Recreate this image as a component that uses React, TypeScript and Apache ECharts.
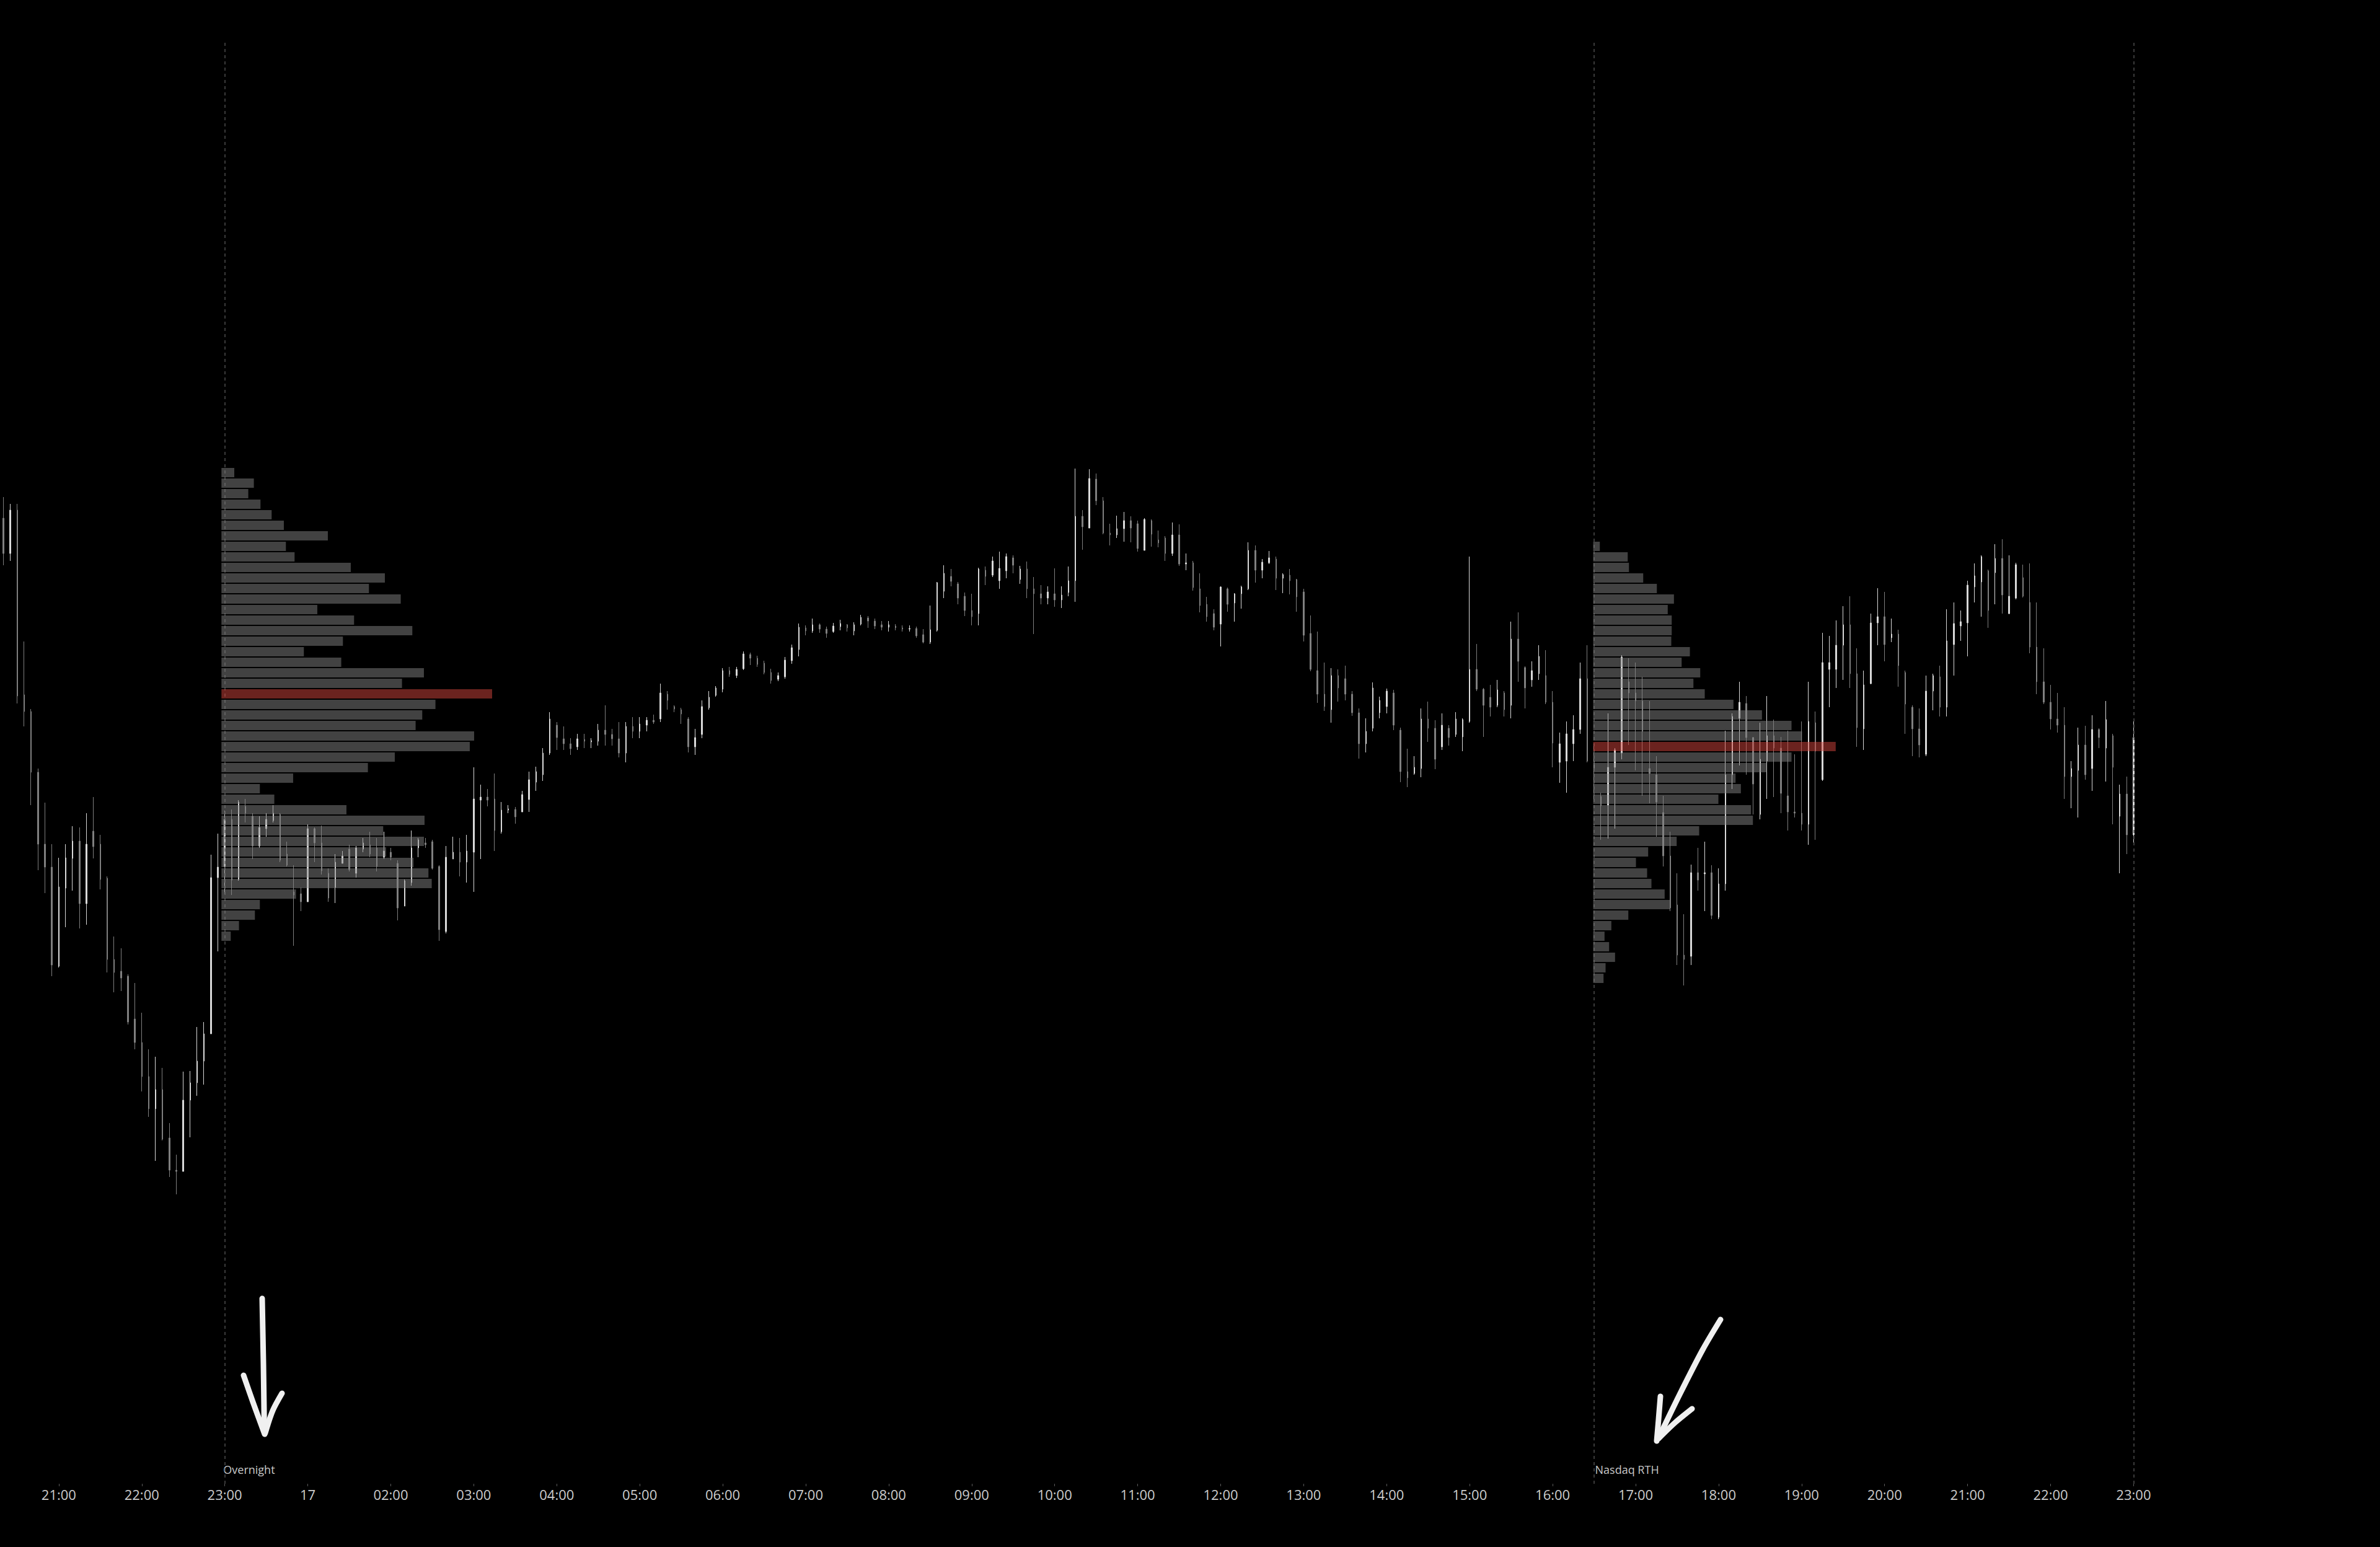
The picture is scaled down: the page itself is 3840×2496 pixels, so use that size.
import React, { useEffect, useRef } from "react";
import * as echarts from "echarts";

// ---------- categories (5-minute bars, CME halt skipped) ----------
const dayOneLabel = "16";
const dayOneStart = "20:20";
const dayOneBars = 44;
const dayTwoLabel = "17";
const dayTwoStart = "01:00";
const dayTwoBars = 265;

function buildTimes(day: string, start: string, count: number): string[] {
  const [h, m] = start.split(":").map(Number);
  const out: string[] = [];
  for (let i = 0; i < count; i++) {
    const t = h * 60 + m + i * 5;
    const hh = String(Math.floor(t / 60)).padStart(2, "0");
    const mm = String(t % 60).padStart(2, "0");
    out.push(day + " " + hh + ":" + mm);
  }
  return out;
}
const times: string[] = [
  ...buildTimes(dayOneLabel, dayOneStart, dayOneBars),
  ...buildTimes(dayTwoLabel, dayTwoStart, dayTwoBars),
];

// ---------- candles [open, close, low, high] ----------
const eveningCandles: number[][] = [
  [21591, 21576.75, 21572, 21599.5], [21576.75, 21594.25, 21573.75, 21596.75],
  [21594.25, 21519.25, 21516.25, 21596.75], [21519.75, 21513, 21507, 21541.25],
  [21513, 21488.5, 21475.25, 21514], [21488.5, 21459.5, 21449, 21490],
  [21459.5, 21450.25, 21439.75, 21476.25], [21450.25, 21410.75, 21406.25, 21459.5],
  [21410.25, 21442.25, 21409.75, 21454], [21441.75, 21454, 21426, 21459.5],
  [21453.75, 21460.75, 21440.75, 21466.75], [21460.75, 21435.5, 21425.5, 21466.25],
  [21435.5, 21459.5, 21427, 21472], [21464.75, 21458.5, 21453.75, 21478.5],
  [21459.5, 21445.25, 21441.25, 21463.25], [21445.75, 21413, 21407.75, 21446.5],
  [21413, 21407.75, 21399.75, 21422.25], [21408.25, 21405.5, 21400.25, 21417.5],
  [21406.25, 21387.75, 21386.75, 21407], [21389, 21379.5, 21376.75, 21403.5],
  [21379.5, 21365.75, 21359.75, 21391.5], [21365.75, 21352.75, 21349.5, 21376.75],
  [21352.75, 21360.5, 21331.75, 21373.75], [21360.5, 21340.5, 21340, 21369.25],
  [21341, 21328, 21325.25, 21347], [21328, 21327.5, 21318.25, 21334.25],
  [21327.5, 21356.25, 21327.5, 21367.75], [21356.25, 21363.25, 21341.25, 21368],
  [21363.25, 21372, 21358, 21385.75], [21372, 21383, 21362.5, 21387.75],
  [21383, 21446, 21383, 21455.25], [21446, 21450.25, 21416.25, 21463.75],
];

const overnightCandles: number[][] = [
  [21450.5, 21469.5, 21439.5, 21473], [21469.5, 21445, 21439, 21473.5],
  [21445.25, 21476.5, 21444.75, 21477.25], [21474.75, 21472, 21468.25, 21477.75],
  [21470.75, 21458.75, 21453.5, 21472], [21458.75, 21466.25, 21458, 21470.75],
  [21465.75, 21469.5, 21462.5, 21472], [21469, 21472, 21468.25, 21475.25],
  [21471.5, 21453, 21452.25, 21472], [21455.5, 21451, 21450.5, 21460.5],
  [21440.25, 21439, 21418.5, 21451], [21439.5, 21436.25, 21432.5, 21442],
  [21436.25, 21465.75, 21436.25, 21467.5], [21465.75, 21460, 21452.25, 21466.25],
  [21460, 21448.75, 21447.25, 21467], [21447.75, 21437.75, 21436.25, 21449.75],
  [21442, 21452.25, 21435.75, 21455.5], [21451.75, 21454.75, 21451.75, 21456.75],
  [21457.5, 21449.25, 21448.5, 21459.25], [21447.75, 21458, 21446, 21458.75],
  [21457.5, 21460, 21456.25, 21462], [21459.25, 21455.5, 21454.25, 21464.5],
  [21458, 21450.5, 21448.5, 21462], [21454.25, 21456.75, 21453.5, 21464.5],
  [21456.25, 21454.25, 21453, 21458], [21451.75, 21433.75, 21428.75, 21453],
  [21434.5, 21444.75, 21434.5, 21445.25], [21444, 21458, 21442.75, 21465],
  [21458, 21461.25, 21454.25, 21462], [21460, 21459.25, 21458, 21462],
  [21460.5, 21449.75, 21449.25, 21461.25], [21450.5, 21425, 21420.5, 21451],
  [21424.25, 21454.25, 21423.5, 21458.75], [21453.5, 21456.25, 21453.5, 21462.5],
  [21456.25, 21452.25, 21446.5, 21462], [21452.25, 21456.75, 21444, 21463.25],
  [21456.25, 21477.75, 21440.25, 21490.5], [21477.25, 21478.5, 21453.5, 21483.5],
  [21478.5, 21477.25, 21474.75, 21481.75], [21477.75, 21465, 21456.75, 21488],
  [21464.5, 21473.25, 21463.75, 21476.5], [21473.25, 21473.75, 21472, 21475.25],
  [21473.5, 21470.5, 21467.75, 21474.5], [21472.5, 21479.5, 21472.5, 21481],
  [21477.5, 21485.5, 21472.5, 21488.75], [21484.5, 21488.75, 21481, 21490.75],
  [21487.5, 21496.25, 21485, 21498.25], [21496.25, 21510, 21495.5, 21512.75],
  [21507.5, 21502.5, 21497.5, 21508.75], [21502, 21500, 21497.5, 21507],
  [21500, 21498, 21495.5, 21502.25], [21498.75, 21502, 21497.5, 21504],
  [21501.75, 21501, 21498.25, 21504], [21500.75, 21501.25, 21498.25, 21502.25],
  [21501, 21505.5, 21499.25, 21508], [21505.5, 21503.75, 21499.25, 21515.5],
  [21503.75, 21502, 21499.25, 21506], [21502, 21496.25, 21494.5, 21508.75],
  [21496.25, 21507, 21492.5, 21508.75], [21507, 21505, 21502.25, 21510.75],
  [21505, 21508, 21502.25, 21510.75], [21507.5, 21509.5, 21505, 21510.75],
  [21509.5, 21508.75, 21508, 21511.75], [21510, 21520.5, 21508.75, 21524.25],
  [21520, 21517.5, 21513.75, 21521.25], [21515, 21514, 21512.75, 21515.5],
  [21513.75, 21512, 21508, 21514.5], [21510, 21498.75, 21496.5, 21510.75],
  [21498.75, 21502.5, 21495.5, 21506], [21503.75, 21515, 21502.25, 21517.5],
  [21514.5, 21518.75, 21513.75, 21521.25], [21519.5, 21522.5, 21519, 21523.25],
  [21522, 21529.5, 21520.75, 21530.5], [21529.5, 21528, 21527, 21531],
  [21527.5, 21530, 21526.5, 21531], [21530.25, 21536.25, 21529.75, 21537.25],
  [21536, 21534.5, 21531.75, 21536.75], [21534.5, 21532, 21531, 21535.5],
  [21532.5, 21528.75, 21528, 21533.5], [21528.75, 21525.5, 21524.25, 21530.25],
  [21526, 21527.5, 21525.25, 21528.75], [21527, 21533.75, 21526.25, 21535],
  [21533.5, 21538.75, 21532.25, 21540], [21538, 21547, 21535.25, 21548.5],
  [21546.75, 21545.5, 21543.75, 21547.75], [21545.5, 21548, 21544.75, 21550.5],
  [21548, 21546.25, 21544.75, 21548.5], [21546.25, 21544.5, 21542.75, 21547.25],
  [21545.25, 21547.5, 21544.75, 21548.75], [21547.25, 21548.5, 21545.75, 21550],
  [21548, 21546.75, 21545.25, 21548.25], [21545.5, 21548, 21543.75, 21549],
  [21548.25, 21551, 21547.75, 21552], [21550.75, 21549.5, 21546.75, 21551.5],
  [21549.5, 21547.5, 21546.25, 21550.5], [21548, 21547, 21545.75, 21549.5],
  [21547, 21548, 21545.25, 21549.5], [21547.5, 21546.75, 21545.75, 21548.25],
  [21546.75, 21546.25, 21545.25, 21547.75], [21546.25, 21546.5, 21545.25, 21547.75],
  [21546.5, 21543.5, 21542.75, 21547.25], [21544, 21541, 21540.5, 21546.25],
  [21541, 21546, 21540.25, 21555.75], [21545.75, 21565, 21545.25, 21565.25],
  [21561.5, 21568.75, 21558.75, 21572], [21567.5, 21565.5, 21563.5, 21570.5],
  [21564.5, 21558.75, 21556.25, 21565.25], [21559.5, 21553.75, 21551.5, 21561],
  [21553.75, 21551.25, 21547.75, 21560.5], [21552.5, 21570.5, 21547.75, 21571],
  [21570, 21567.5, 21564, 21571.5], [21568, 21573.75, 21567.25, 21575.5],
  [21565.75, 21570.75, 21562.5, 21577.5], [21569.75, 21575.5, 21566.75, 21576.75],
  [21575, 21572, 21568.75, 21576], [21566.25, 21570.5, 21564.5, 21571.75],
  [21570.5, 21562.5, 21558.75, 21573.5], [21562.5, 21560.5, 21544.25, 21567.25],
  [21560.5, 21558.75, 21556.25, 21564], [21558.75, 21561.25, 21556.25, 21563.5],
  [21560.5, 21558, 21555.25, 21570.75], [21558, 21560, 21554.75, 21563.5],
  [21561, 21565.75, 21559.5, 21571.5], [21565.75, 21591.75, 21557.25, 21611],
  [21591.75, 21587.5, 21578.25, 21594.25], [21587, 21607, 21587, 21610.75],
  [21606.75, 21598, 21596.25, 21609], [21598, 21585, 21584.5, 21599.5],
  [21585, 21584.25, 21580, 21588.75], [21584.25, 21586.75, 21583, 21592],
  [21586.75, 21590, 21581.5, 21593.5], [21590, 21587, 21581.25, 21591.75],
  [21588.75, 21578.75, 21577.5, 21590], [21578, 21590.5, 21578, 21591],
  [21590, 21584.5, 21579.5, 21590.5], [21582.25, 21581, 21579.25, 21586],
  [21583, 21576.75, 21573.75, 21583.75], [21576.75, 21584.25, 21575.75, 21589.25],
  [21584.25, 21572.5, 21571.75, 21588.5], [21572.5, 21573, 21570, 21576.75],
  [21573, 21563, 21561.75, 21573.75], [21562.5, 21555.75, 21553, 21568.75],
  [21556.25, 21551.25, 21549.25, 21559.25], [21552.5, 21547, 21545.75, 21554.25],
  [21548.25, 21563.25, 21539.25, 21563.5], [21562.5, 21556.25, 21553.25, 21563],
  [21556.75, 21560.5, 21549.25, 21560.75], [21560.5, 21563.25, 21554.5, 21563.75],
  [21562.5, 21578, 21562, 21581.25], [21578, 21570, 21565, 21580],
  [21570, 21573.25, 21566.75, 21574.5], [21573, 21575, 21572.5, 21577.75],
  [21574.5, 21566.75, 21562, 21575.5], [21566.75, 21568.25, 21560.75, 21568.75],
  [21568, 21565.75, 21560.25, 21570.5], [21566.25, 21559.25, 21553.25, 21566.5],
  [21561.25, 21543.75, 21541.25, 21562.5], [21544.5, 21530, 21529.25, 21551.75],
  [21529.5, 21520, 21516.5, 21545.25], [21520, 21515, 21513.25, 21532.75],
  [21513.75, 21527.5, 21508.5, 21530.5], [21527.5, 21522.5, 21517, 21530],
  [21526.25, 21520, 21517.5, 21531.5], [21520, 21512.5, 21511.25, 21521.25],
  [21512.5, 21500, 21494, 21514.25], [21500, 21505, 21496.5, 21510.25],
  [21506.25, 21522.5, 21505, 21524.75], [21512.5, 21517.5, 21510.25, 21519],
  [21515, 21521.25, 21512.25, 21522.25], [21520.5, 21507.5, 21505.5, 21521.75],
  [21505.5, 21488.75, 21484.5, 21506.5], [21488.75, 21486.25, 21482.5, 21498],
  [21488, 21490.5, 21487.5, 21495], [21490, 21510, 21486.5, 21514.25],
  [21510, 21506.25, 21500.75, 21517], [21506.25, 21493.75, 21489.75, 21509.5],
  [21498.75, 21507.5, 21497.5, 21512.25], [21506.25, 21502.5, 21499.25, 21507.5],
  [21503.75, 21510, 21502.75, 21512.75], [21502.75, 21509.75, 21497, 21510.25],
  [21509, 21530, 21508.5, 21575.5], [21530, 21522, 21521.25, 21540.25],
  [21522, 21515.5, 21502.75, 21522.5], [21518.75, 21514.75, 21511, 21523.75],
  [21515.5, 21521.75, 21514.75, 21525.75], [21520.5, 21513.75, 21511, 21521.25],
  [21515.5, 21542.25, 21510.25, 21549.25], [21542.25, 21533.25, 21525, 21553],
  [21530.75, 21522.5, 21514.25, 21531.25], [21525.75, 21529.5, 21523, 21533.25],
  [21528.25, 21535.25, 21525.75, 21539.75], [21527.5, 21516.75, 21516, 21537.75],
  [21516.75, 21500.25, 21490.5, 21521.25], [21492.5, 21500, 21484.25, 21504.5],
  [21493, 21504, 21480.25, 21509], [21500, 21505.75, 21493, 21511.5],
  [21505.75, 21526.25, 21504, 21532.75], [21526.25, 21493, 21492.5, 21539.75],
];

const rthCandles: number[][] = [
  [21493, 21490, 21477.5, 21500], [21478.75, 21475, 21461.25, 21480.25],
  [21475.25, 21490.5, 21461.75, 21512.25], [21490.5, 21497.5, 21465.75, 21498.25],
  [21496.25, 21535, 21493.75, 21535.75], [21525, 21520.5, 21499.5, 21534.5],
  [21520.5, 21517.25, 21489.25, 21532.75], [21517.25, 21505, 21479, 21527],
  [21490, 21488, 21476, 21517.25], [21487.5, 21476.5, 21462.5, 21495],
  [21472.25, 21454.75, 21450.5, 21479], [21454.75, 21433.75, 21432.5, 21464.5],
  [21435, 21414.75, 21410.75, 21447.75], [21414.75, 21413, 21402.5, 21431.25],
  [21414.25, 21448, 21410.75, 21451.25], [21448, 21445, 21440.75, 21458],
  [21447.5, 21448, 21432.5, 21460.5], [21448, 21430.75, 21429.25, 21451],
  [21430, 21443.5, 21429.25, 21449.75], [21443.5, 21487.5, 21440.75, 21505.25],
  [21487.5, 21511, 21481.75, 21512.25], [21510.25, 21516.75, 21491.25, 21525],
  [21516.25, 21502.5, 21487.5, 21519.25], [21502.5, 21483.75, 21471.5, 21502.75],
  [21471.5, 21493.75, 21469.5, 21508.5], [21493, 21503.25, 21477.75, 21519.25],
  [21503.25, 21498.25, 21478.5, 21509.75], [21498.25, 21480, 21472, 21502.75],
  [21479, 21472.5, 21465, 21505.25], [21472.5, 21472, 21470.25, 21495.75],
  [21472, 21467.5, 21465, 21509], [21467.5, 21509, 21459.25, 21525],
  [21508.5, 21497, 21461.25, 21513], [21485.5, 21532.75, 21485, 21544.75],
  [21530, 21532.75, 21514.75, 21543.5], [21530, 21539.75, 21522.5, 21549.75],
  [21539.75, 21548, 21525.75, 21555.5], [21548, 21528.25, 21522.5, 21559.5],
  [21528.25, 21506.5, 21498.75, 21538.5], [21506, 21523.75, 21497.5, 21529.5],
  [21524.25, 21548.75, 21524, 21552.5], [21548.75, 21551.25, 21539.75, 21562.75],
  [21551.25, 21540, 21533.25, 21561.25], [21542.75, 21544.25, 21541, 21550.5],
  [21544.25, 21531.5, 21523, 21546], [21528.75, 21516, 21504, 21529.5],
  [21514.75, 21506, 21495, 21515.5], [21506, 21499.5, 21494.5, 21514.25],
  [21495.75, 21521.25, 21495, 21527.5], [21521.25, 21527.5, 21513.5, 21528.25],
  [21527, 21514.75, 21511, 21531.5], [21514.75, 21541.5, 21511, 21554.25],
  [21540, 21548.5, 21527.5, 21557], [21547.5, 21549.25, 21541.5, 21553.75],
  [21548.75, 21564, 21535.25, 21565.75], [21563.25, 21567.75, 21557, 21572.75],
  [21565.25, 21575.5, 21551.25, 21576], [21569.75, 21553.75, 21546.75, 21570.25],
  [21569, 21574.75, 21556.25, 21580.5], [21574.75, 21560, 21552.5, 21582.5],
  [21552.5, 21559.5, 21552.25, 21576], [21558.75, 21572.25, 21558.25, 21573],
  [21567, 21559.5, 21559, 21572.25], [21557, 21539, 21536.5, 21572.75],
  [21539, 21525, 21520, 21557], [21525, 21516.75, 21516, 21538.5],
  [21516.75, 21510, 21505.75, 21523.75], [21510, 21507.5, 21504.5, 21520.5],
  [21507.5, 21486.75, 21477.75, 21514.75], [21486.75, 21490, 21474, 21493],
  [21489.25, 21499.5, 21470.25, 21506.5], [21499.5, 21487.5, 21485.5, 21507.25],
  [21490, 21505.75, 21481, 21511.5], [21505.75, 21502.5, 21498.25, 21506.25],
  [21498.25, 21509.75, 21484.75, 21517.25], [21503.25, 21490.5, 21467.5, 21504],
  [21470.75, 21479.75, 21447.75, 21483.5], [21479.75, 21463.25, 21455.5, 21486.75],
  [21463.25, 21502.5, 21460, 21509],
];

const candles = [...eveningCandles, ...overnightCandles, ...rthCandles];

// ---------- volume profiles (rows of 4.25 points, top row first) ----------
const profileRowSize = 4.25;
const overnightProfileTop = 21611.5;
const overnightVolume = [
  207, 523, 433, 630, 810, 1007, 1717, 1040, 1180, 2087, 2637, 2380, 2893, 1547, 2140,
  3080, 1960, 1330, 1933, 3267, 2913, 4367, 3453, 3240, 3133, 4077, 4007, 2797, 2363,
  1157, 620, 853, 2017, 3277, 2610, 3267, 2657, 3100, 3340, 3393, 1203, 620, 540, 283, 150,
];
const rthProfileTop = 21581.75;
const rthVolume = [
  107, 557, 577, 807, 1027, 1303, 1203, 1267, 1267, 1260, 1560, 1427, 1727, 1617, 1800,
  2263, 2723, 3200, 3370, 3913, 3200, 2800, 2297, 2383, 2020, 2547, 2577, 1710, 1347,
  887, 690, 870, 940, 1153, 1240, 567, 293, 183, 257, 353, 200, 167,
];

// ---------- sessions ----------
const sessionNames = ["Overnight", "Nasdaq RTH"];
const sessionStarts = ["16 23:00", "17 16:30"];
const sessionEnd = "17 23:00";

// ---------- layout / style ----------
const W = 3840;
const H = 2496;
const GRID_LEFT = -6;
const GRID_W = 3454;
const GRID_TOP = 69;
const GRID_H = 2325;
const Y_MIN = 21201.5;
const Y_MAX = 21782.75;
const PROFILE_W = 1000;
const VOL_MAX = 10000;
const BULL = "#d9d9d9";
const BEAR = "#7f7f7f";
const BAR = "rgba(132,132,132,0.5)";
const POC = "rgba(214,70,62,0.5)";
const FONT = "'Open Sans', Roboto, sans-serif";

export default function App() {
  const ref = useRef<HTMLDivElement>(null);

  useEffect(() => {
    document.body.style.margin = "0";
    document.body.style.background = "#000";
    if (!ref.current) return;
    const chart = echarts.init(ref.current, undefined, { renderer: "svg" });

    const N = times.length;
    const band = GRID_W / N;
    const xOf = (t: string) => GRID_LEFT + (times.indexOf(t) + 0.5) * band;
    const dayFirst = new Set<number>();
    times.forEach((t, i) => {
      if (i > 0 && t.split(" ")[0] !== times[i - 1].split(" ")[0]) dayFirst.add(i);
    });
    const isHour = (i: number, v: string) => v.endsWith(":00");

    const profileRows = (top: number, vols: number[]) => {
      const max = Math.max(...vols);
      return vols.map((v, i) => [
        top - i * profileRowSize,
        top - (i + 1) * profileRowSize,
        v,
        v === max ? 1 : 0,
      ]);
    };
    const renderProfile = (params: any, api: any) => {
      const a = api.coord([0, api.value(0)]);
      const b = api.coord([api.value(2), api.value(1)]);
      return {
        type: "rect",
        shape: { x: a[0], y: a[1] + 1, width: b[0] - a[0], height: b[1] - a[1] - 2 },
        style: { fill: api.value(3) ? POC : BAR },
      };
    };

    const profGrid = (t: string) => ({
      left: xOf(t),
      top: GRID_TOP,
      width: PROFILE_W,
      height: GRID_H,
    });
    const hiddenY = (gi: number) => ({
      type: "value",
      gridIndex: gi,
      min: Y_MIN,
      max: Y_MAX,
      show: false,
    });
    const hiddenVol = (gi: number) => ({
      type: "value",
      gridIndex: gi,
      min: 0,
      max: VOL_MAX,
      show: false,
    });

    const arrowStyle = {
      stroke: "#f0f0f0",
      lineWidth: 9,
      lineCap: "round",
      lineJoin: "round",
      fill: "none",
    };

    const option: any = {
      animation: false,
      backgroundColor: "#000000",
      grid: [
        { left: GRID_LEFT, top: GRID_TOP, width: GRID_W, height: GRID_H },
        profGrid(sessionStarts[0]),
        profGrid(sessionStarts[1]),
      ],
      xAxis: [
        {
          type: "category",
          gridIndex: 0,
          data: times,
          boundaryGap: true,
          axisLine: { show: false },
          axisTick: {
            show: true,
            alignWithLabel: true,
            interval: isHour,
            length: 4,
            lineStyle: { color: "#5a5a5a", width: 1 },
          },
          axisLabel: {
            interval: isHour,
            formatter: (v: string, i: number) =>
              dayFirst.has(i) ? v.split(" ")[0] : v.split(" ")[1],
            color: "#cccccc",
            fontSize: 22,
            fontFamily: FONT,
            margin: 6,
          },
          splitLine: { show: false },
        },
        hiddenVol(1),
        hiddenVol(2),
      ],
      yAxis: [hiddenY(0), hiddenY(1), hiddenY(2)],
      series: [
        {
          type: "candlestick",
          xAxisIndex: 0,
          yAxisIndex: 0,
          data: candles,
          barWidth: 2,
          z: 2,
          itemStyle: {
            color: BULL,
            color0: BEAR,
            borderColor: BULL,
            borderColor0: BEAR,
            borderColorDoji: BEAR,
            borderWidth: 1,
          },
          markLine: {
            silent: true,
            symbol: "none",
            label: { show: false },
            lineStyle: { color: "#4d4d4d", type: [5, 5], width: 1.5 },
            data: [...sessionStarts, sessionEnd].map((t) => ({ xAxis: t })),
          },
        },
        {
          type: "custom",
          xAxisIndex: 1,
          yAxisIndex: 1,
          data: profileRows(overnightProfileTop, overnightVolume),
          encode: { x: 2, y: [0, 1] },
          renderItem: renderProfile,
          clip: false,
          silent: true,
          z: 5,
        },
        {
          type: "custom",
          xAxisIndex: 2,
          yAxisIndex: 2,
          data: profileRows(rthProfileTop, rthVolume),
          encode: { x: 2, y: [0, 1] },
          renderItem: renderProfile,
          clip: false,
          silent: true,
          z: 5,
        },
      ],
      graphic: [
        ...sessionNames.map((name, k) => ({
          type: "text",
          left: xOf(sessionStarts[k]) + 3,
          top: 2362,
          silent: true,
          style: { text: name, fill: "#c8c8c8", fontSize: 18, fontFamily: FONT },
        })),
        // hand-drawn arrow under "Overnight"
        { type: "polyline", silent: true, shape: { points: [[423, 2095], [425, 2200], [426.5, 2308]] }, style: arrowStyle },
        { type: "polyline", silent: true, shape: { points: [[393, 2219], [408, 2262], [427, 2314]], smooth: 0.3 }, style: arrowStyle },
        { type: "polyline", silent: true, shape: { points: [[455, 2248], [440, 2276], [428, 2312]], smooth: 0.3 }, style: arrowStyle },
        // hand-drawn arrow above "Nasdaq RTH"
        { type: "polyline", silent: true, shape: { points: [[2776, 2129], [2747, 2178], [2710, 2250], [2676, 2320]], smooth: 0.3 }, style: arrowStyle },
        { type: "polyline", silent: true, shape: { points: [[2679, 2253], [2676, 2290], [2673, 2325]], smooth: 0.3 }, style: arrowStyle },
        { type: "polyline", silent: true, shape: { points: [[2730, 2273], [2703, 2295], [2676, 2321]], smooth: 0.3 }, style: arrowStyle },
      ],
    };

    chart.setOption(option);
    return () => chart.dispose();
  }, []);

  return <div ref={ref} style={{ width: W, height: H, background: "#000" }} />;
}
